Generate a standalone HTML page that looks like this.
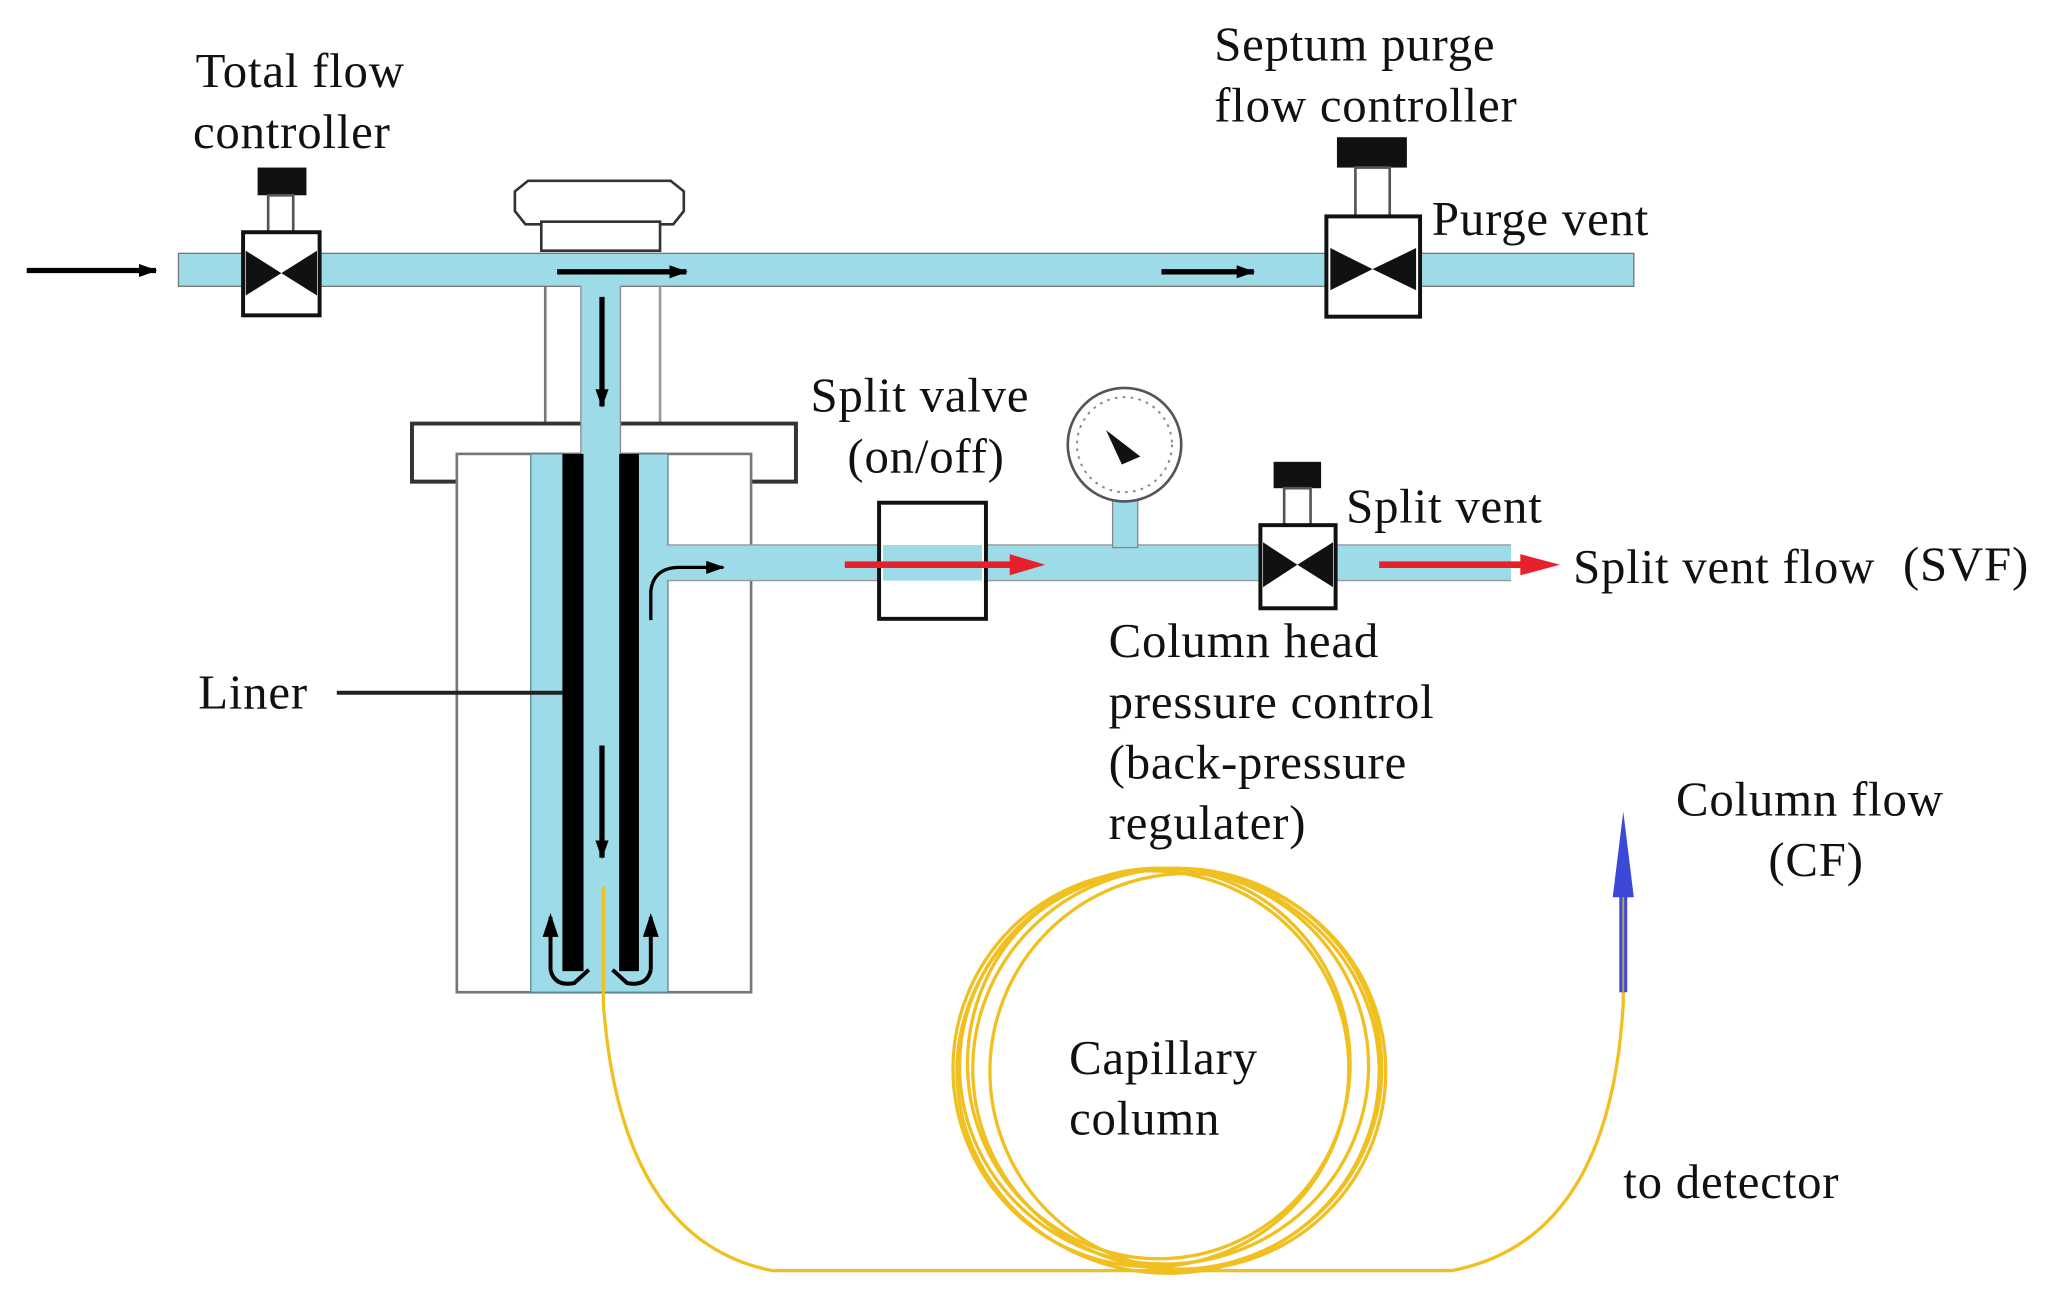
<!DOCTYPE html>
<html><head><style>
html,body{margin:0;padding:0;background:#fff;}
svg{display:block;}
text{font-family:"Liberation Serif",serif;font-size:37px;letter-spacing:0.6px;fill:#111;}
</style></head><body>
<svg width="2059" height="1301" viewBox="0 0 1560 986" xmlns="http://www.w3.org/2000/svg">
<defs>
<marker id="ab" markerWidth="14" markerHeight="10" refX="13" refY="5" orient="auto" markerUnits="userSpaceOnUse" viewBox="0 0 14 10"><path d="M0,0 L14,5 L0,10 Z" fill="#000"/></marker>
</defs>
<path d="M398,170 L390,160 L390,145 L400,137 L508,137 L518,145 L518,160 L510,170 Z" fill="#fff" stroke="#333" stroke-width="2"/>
<rect x="410" y="168" width="90" height="22" fill="#fff" stroke="#333" stroke-width="2"/>
<rect x="135" y="192" width="1103" height="25" fill="#9ddbe9" stroke="#777" stroke-width="1"/>
<line x1="413" y1="217" x2="413" y2="322" stroke="#777" stroke-width="2"/>
<line x1="500" y1="217" x2="500" y2="322" stroke="#999" stroke-width="2"/>
<path d="M347,365 L312,365 L312,321 L603,321 L603,365 L569,365" fill="#fff" stroke="#333" stroke-width="3"/>
<rect x="346" y="344" width="223" height="408" fill="#fff" stroke="#777" stroke-width="2"/>
<rect x="402" y="344" width="104" height="408" fill="#9ddbe9" stroke="#5a8a95" stroke-width="1"/>
<rect x="505" y="413" width="640" height="27" fill="#9ddbe9"/>
<line x1="505" y1="413" x2="1145" y2="413" stroke="#999" stroke-width="1"/>
<line x1="505" y1="440" x2="1145" y2="440" stroke="#999" stroke-width="1"/>
<rect x="440" y="205" width="30" height="140" fill="#9ddbe9"/>
<line x1="440" y1="217" x2="440" y2="344" stroke="#888" stroke-width="1"/>
<line x1="470" y1="217" x2="470" y2="344" stroke="#888" stroke-width="1"/>
<rect x="426" y="344" width="16" height="392" fill="#000"/>
<rect x="469" y="344" width="15" height="392" fill="#000"/>
<line x1="20" y1="205" x2="118" y2="205" stroke="#000" stroke-width="4" marker-end="url(#ab)"/>
<line x1="422" y1="206" x2="520" y2="206" stroke="#000" stroke-width="4" marker-end="url(#ab)"/>
<line x1="880" y1="206" x2="950" y2="206" stroke="#000" stroke-width="4" marker-end="url(#ab)"/>
<line x1="456" y1="225" x2="456" y2="308" stroke="#000" stroke-width="4" marker-end="url(#ab)"/>
<line x1="456" y1="565" x2="456" y2="650" stroke="#000" stroke-width="4" marker-end="url(#ab)"/>
<path d="M493,470 L493,448 Q495,430 515,430 L548,430" fill="none" stroke="#000" stroke-width="2.5" marker-end="url(#ab)"/>
<path d="M417,735 L417,695 M417,735 Q420,748 435,745 L446,735" fill="none" stroke="#000" stroke-width="3"/>
<path d="M411,710 L417,692 L423,710 Z" fill="#000"/>
<path d="M493,735 L493,695 M493,735 Q490,748 475,745 L464,735" fill="none" stroke="#000" stroke-width="3"/>
<path d="M487,710 L493,692 L499,710 Z" fill="#000"/>
<rect x="195" y="127" width="37" height="21" fill="#111"/>
<rect x="203" y="148" width="19" height="28" fill="#fff" stroke="#555" stroke-width="2"/>
<rect x="184" y="176" width="58" height="63" fill="#fff" stroke="#111" stroke-width="3"/>
<path d="M186,190 L213,207 L186,224 Z M240,190 L213,207 L240,224 Z" fill="#111"/>
<rect x="1013" y="104" width="53" height="23" fill="#111"/>
<rect x="1027" y="127" width="26" height="37" fill="#fff" stroke="#555" stroke-width="2"/>
<rect x="1005" y="164" width="71" height="76" fill="#fff" stroke="#111" stroke-width="3"/>
<path d="M1008,188 L1040,204 L1008,220 Z M1073,188 L1040,204 L1073,220 Z" fill="#111"/>
<rect x="666" y="381" width="81" height="88" fill="#fff" stroke="#111" stroke-width="3"/>
<rect x="669" y="413" width="75" height="27" fill="#9ddbe9"/>
<line x1="640" y1="428" x2="768" y2="428" stroke="#e8202a" stroke-width="5"/>
<path d="M765,420 L792,428 L765,436 Z" fill="#e8202a"/>
<line x1="1045" y1="428" x2="1155" y2="428" stroke="#e8202a" stroke-width="5"/>
<path d="M1152,420 L1182,428 L1152,436 Z" fill="#e8202a"/>
<rect x="843" y="378" width="19" height="37" fill="#9ddbe9" stroke="#888" stroke-width="1"/>
<circle cx="852" cy="337" r="43" fill="#fff" stroke="#555" stroke-width="2"/>
<circle cx="852" cy="337" r="36" fill="none" stroke="#888" stroke-width="1.5" stroke-dasharray="2,4"/>
<path d="M838,326 L864,346 L850,352 Z" fill="#111"/>
<rect x="965" y="350" width="36" height="20" fill="#111"/>
<rect x="973" y="370" width="20" height="28" fill="#fff" stroke="#555" stroke-width="2"/>
<rect x="955" y="398" width="57" height="63" fill="#fff" stroke="#111" stroke-width="3"/>
<path d="M957,411 L983,428 L957,445 Z M1010,411 L983,428 L1010,445 Z" fill="#111"/>
<line x1="255" y1="525" x2="426" y2="525" stroke="#222" stroke-width="3"/>
<g fill="none" stroke="#f0c020" stroke-width="2.5">
<path d="M457,672 L457,760 Q470,940 585,963 L1100,963 Q1220,940 1230,760 L1230,750"/>
<ellipse cx="872" cy="810" rx="150" ry="150"/>
<ellipse cx="882" cy="808" rx="155" ry="150"/>
<ellipse cx="892" cy="810" rx="155" ry="152"/>
<ellipse cx="900" cy="812" rx="150" ry="150"/>
<ellipse cx="885" cy="812" rx="160" ry="153"/>
<ellipse cx="878" cy="806" rx="145" ry="148"/>
</g>
<line x1="1230" y1="752" x2="1230" y2="660" stroke="#3b48d8" stroke-width="6"/>
<line x1="1230" y1="752" x2="1230" y2="670" stroke="#b8a060" stroke-width="1.5"/>
<path d="M1222,680 L1230,615 L1238,680 Z" fill="#3b48d8"/>
<text x="148" y="66">Total flow</text>
<text x="146" y="112">controller</text>
<text x="920" y="46">Septum purge</text>
<text x="920" y="92">flow controller</text>
<text x="1085" y="178">Purge vent</text>
<text x="614" y="312">Split valve</text>
<text x="642" y="358">(on/off)</text>
<text x="1020" y="396">Split vent</text>
<text x="1192" y="442">Split vent flow</text>
<text x="1442" y="440">(SVF)</text>
<text x="840" y="498">Column head</text>
<text x="840" y="544">pressure control</text>
<text x="840" y="590">(back-pressure</text>
<text x="840" y="636">regulater)</text>
<text x="150" y="537">Liner</text>
<text x="1270" y="618">Column flow</text>
<text x="1340" y="664">(CF)</text>
<text x="810" y="814">Capillary</text>
<text x="810" y="860">column</text>
<text x="1230" y="908">to detector</text>
</svg>
</body></html>
